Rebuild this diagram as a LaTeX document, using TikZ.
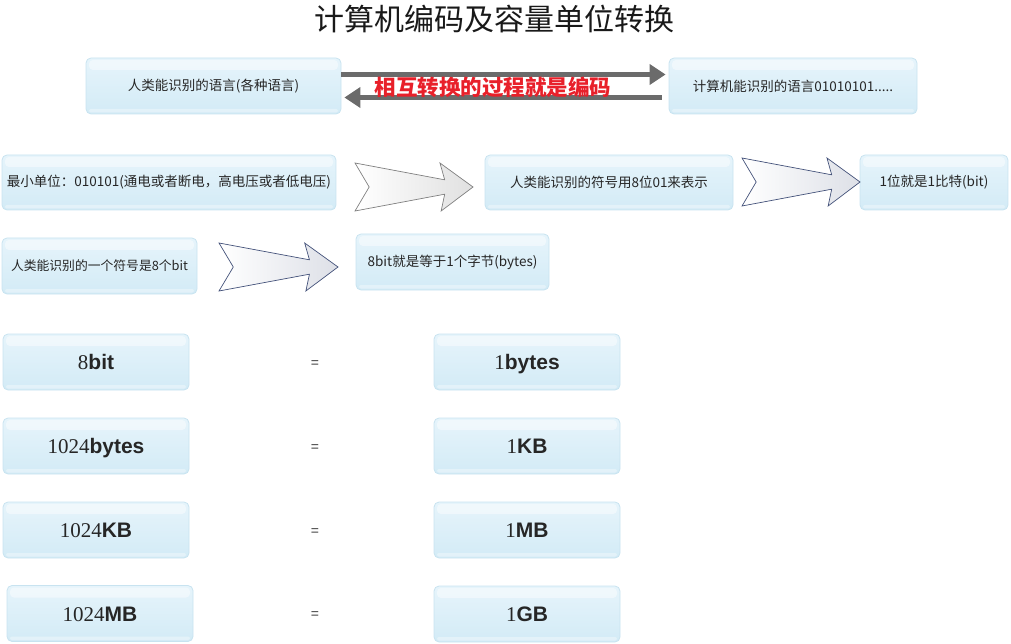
\documentclass[tikz,border=0pt]{standalone}
\usepackage{fontspec}
\setmainfont{Liberation Serif}
\setsansfont{Liberation Sans}
\newfontfamily\cjk{Noto Sans CJK SC}
\usetikzlibrary{arrows.meta,calc}
\definecolor{boxtop}{HTML}{E6F4FB}
\definecolor{boxbot}{HTML}{D3EBF6}
\definecolor{boxedge}{HTML}{C8E3F0}
\definecolor{linkgray}{HTML}{6B6B6B}
\definecolor{codered}{HTML}{E8202A}
\definecolor{slate}{HTML}{44527A}

% notched fat arrow: style, x0, y0 (top), x1, y1 (bottom)
\newcommand{\fatarrow}[5]{%
  \pgfmathsetmacro\fw{#4-#2}\pgfmathsetmacro\fh{#5-#3}\pgfmathsetmacro\fm{(#3+#5)/2}%
  \draw[#1] (#2,#3) -- (#4-0.24*\fw,\fm-0.15*\fh) -- (#4-0.28*\fw,#3) -- (#4,\fm)
    -- (#4-0.27*\fw,#5) -- (#4-0.24*\fw,\fm+0.15*\fh) -- (#2,#5) -- (#2+0.12*\fw,\fm) -- cycle;}

\begin{document}
\begin{tikzpicture}[x=1pt, y=-1pt,
  ubox/.style={rectangle, rounded corners=5pt, draw=boxedge, line width=0.8pt, top color=boxtop, bottom color=boxbot,
    minimum height=56pt, inner sep=2pt, text=black!85,
    path picture={
      \fill[white, opacity=0.45, rounded corners=4pt] ($(path picture bounding box.north west)+(3pt,-2pt)$) rectangle ($(path picture bounding box.north east)+(-3pt,-12pt)$);
      \fill[white, opacity=0.35, rounded corners=2pt] ($(path picture bounding box.south west)+(3pt,1.5pt)$) rectangle ($(path picture bounding box.south east)+(-3pt,5pt)$);
    }},
  smalltxt/.style={font=\cjk\fontsize{13.5}{15}\selectfont},
  bigtxt/.style={font=\fontsize{21}{24}\selectfont, minimum width=186pt, text height=15pt, text depth=0pt},
  eqsign/.style={font=\sffamily\fontsize{14}{16}\selectfont, text=black!75},
  grayarr/.style={-{Triangle[length=16pt,width=20pt]}, line width=5pt, linkgray},
  fatgray/.style={draw=black!50, left color=white, right color=black!12, line width=0.7pt},
  fatblue/.style={draw=slate, left color=white, right color=slate!18, line width=0.7pt}
]
  \useasboundingbox (0,0) rectangle (1011,644);

  \node[font=\cjk\fontsize{30}{34}\selectfont, text=black!90] (title) at (494,19) {计算机编码及容量单位转换};

  \node[ubox, smalltxt, minimum width=255pt] (lang) at (213.5,86) {人类能识别的语言(各种语言)};
  \node[ubox, smalltxt, minimum width=248pt] (mach) at (793,86) {计算机能识别的语言01010101.....};
  \draw[grayarr] ([yshift=11.5pt]lang.east) -- ([xshift=-3pt,yshift=11.5pt]mach.west);
  \draw[grayarr] ([xshift=-7pt,yshift=-11.5pt]mach.west) -- ([xshift=3pt,yshift=-11.5pt]lang.east);
  \node[font=\cjk\bfseries\fontsize{21.5}{24}\selectfont, text=codered] (codetxt) at (493,87) {相互转换的过程就是编码};

  \node[ubox, smalltxt, minimum width=334pt, minimum height=55pt] (minunit) at (169,182.5) {最小单位：010101(通电或者断电，高电压或者低电压)};
  \node[ubox, smalltxt, minimum width=248pt, minimum height=55pt] (eightbits) at (609,182.5) {人类能识别的符号用8位01来表示};
  \node[ubox, smalltxt, minimum width=148pt, minimum height=55pt] (onebit) at (934,182.5) {1位就是1比特(bit)};
  \fatarrow{fatgray}{355}{163}{473}{211}
  \fatarrow{fatblue}{742}{158}{860}{206}

  \node[ubox, smalltxt, font=\cjk\fontsize{12.8}{15}\selectfont, minimum width=195pt] (symbol) at (99.5,266) {人类能识别的一个符号是8个bit};
  \node[ubox, smalltxt, minimum width=193pt] (onebyte) at (452.5,262) {8bit就是等于1个字节(bytes)};
  \fatarrow{fatblue}{219}{243}{338}{291}

  \node[ubox, bigtxt] (bitL) at (96,362) {8\textsf{\bfseries bit}};
  \node[eqsign] (eq1) at (315,364) {=};
  \node[ubox, bigtxt] (byteR) at (527,362) {1\textsf{\bfseries bytes}};

  \node[ubox, bigtxt] (bytesL) at (96,446) {1024\textsf{\bfseries bytes}};
  \node[eqsign] (eq2) at (315,448) {=};
  \node[ubox, bigtxt] (kbR) at (527,446) {1\textsf{\bfseries KB}};

  \node[ubox, bigtxt] (kbL) at (96,530) {1024\textsf{\bfseries KB}};
  \node[eqsign] (eq3) at (315,532) {=};
  \node[ubox, bigtxt] (mbR) at (527,530) {1\textsf{\bfseries MB}};

  \node[ubox, bigtxt] (mbL) at (100,613.5) {1024\textsf{\bfseries MB}};
  \node[eqsign] (eq4) at (315,615) {=};
  \node[ubox, bigtxt] (gbR) at (527,614) {1\textsf{\bfseries GB}};
\end{tikzpicture}
\end{document}
